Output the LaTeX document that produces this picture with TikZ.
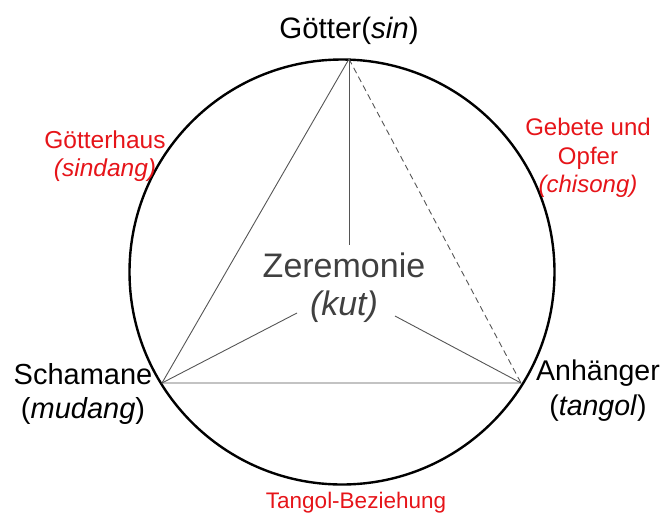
\documentclass[tikz,border=0pt]{standalone}
\usepackage{fontspec}
\setmainfont{Liberation Sans}
\usepackage{xcolor}
\usepackage{tikz}
\usetikzlibrary{calc}
\definecolor{labelred}{RGB}{230,20,25}
\definecolor{linegray}{RGB}{85,85,85}

\begin{document}
\begin{tikzpicture}[x=1pt,y=-1pt]
	 \useasboundingbox(0,0)rectangle(666,520);
	 \coordinate(M)at(342,272);
	 \coordinate(G)at(349,59);\coordinate(S)at(162,383);\coordinate(A)at(521,383);
	 \coordinate(Gend)at(349,245);\coordinate(Send)at(297,313);\coordinate(Aend)at(395,316);
	 \draw[line width=2.4pt](M)circle(212.5);
	 \draw[linegray,line width=.9pt](G)--(S)--(A);
	 \draw[linegray,line width=.9pt,dash pattern=on 6pt off 4pt](G)--(A);
	 \draw[linegray,line width=.9pt](G)--(Gend);
	 \draw[linegray,line width=.9pt](S)--(Send);
	 \draw[linegray,line width=.9pt](A)--(Aend);
	 \node[font=\fontsize{29.5}{31}\selectfont](goetter)at(349,31){G\"otter(\textit{sin})};
	 \node[text=black!75,align=center,font=\fontsize{34}{38}\selectfont](kut)at(344,288){Zeremonie\\\textit{(kut)}};
	 \node[text=labelred,align=center,font=\fontsize{24.5}{28}\selectfont](haus)at(105,156){G\"otterhaus\\\textit{(sindang)}};
	 \node[text=labelred,align=center,font=\fontsize{24}{28.5}\selectfont](opfer)at(588,158){Gebete und\\Opfer\\\textit{(chisong)}};
	 \node[align=center,font=\fontsize{29}{34}\selectfont](schamane)at(83,394){Schamane\\(\textit{mudang})};
	 \node[align=center,font=\fontsize{28.5}{35}\selectfont](anhaenger)at(598,391){Anh\"anger\\(\textit{tangol})};
	 \node[text=labelred,font=\fontsize{22.5}{24}\selectfont](bez)at(356,503){Tangol-Beziehung};
	\end{tikzpicture}
\end{document}
